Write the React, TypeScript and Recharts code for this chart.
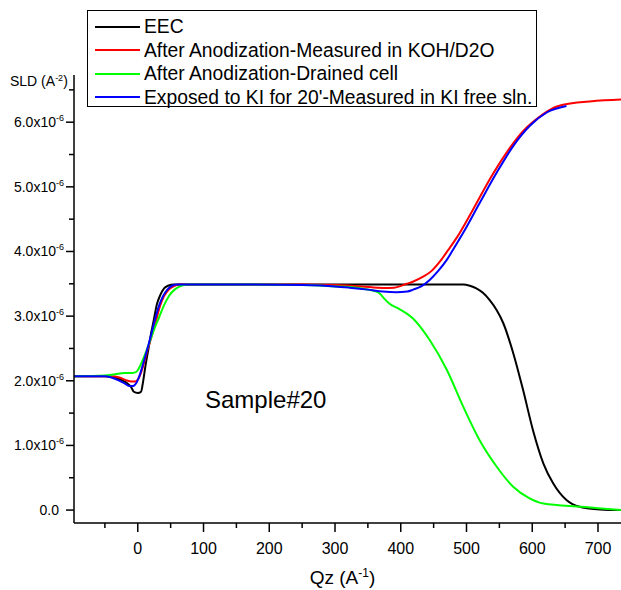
import { LineChart, Line, XAxis, YAxis, Legend } from 'recharts';

// SLD values are in units of 1e-6 A^-2, Qz in A^-1
const eecQ = [-97, -50, -40, -32, -24, -17, -10, -6, 0, 5, 8, 12, 16, 20, 24, 29, 34, 40, 46, 55, 150, 300, 450, 495, 505, 515, 525, 535, 546, 556, 571, 586, 601, 617, 632, 652, 672, 703, 735];
const eecSld = [2.07, 2.07, 2.06, 2.04, 2.01, 1.97, 1.9, 1.83, 1.81, 1.83, 1.98, 2.25, 2.48, 2.72, 2.92, 3.18, 3.32, 3.43, 3.47, 3.49, 3.49, 3.49, 3.49, 3.49, 3.47, 3.43, 3.36, 3.25, 3.09, 2.89, 2.43, 1.86, 1.24, 0.72, 0.41, 0.155, 0.05, 0.01, 0.0];

const kohQ = [-97, -40, -28, -18, -10, -4, 2, 8, 14, 20, 28, 34, 40, 48, 56, 65, 150, 250, 300, 340, 373, 390, 409, 420, 434, 447, 460, 472, 485, 510, 535, 561, 586, 612, 632, 653, 735];
const kohSld = [2.07, 2.07, 2.05, 2.01, 1.99, 1.99, 2.05, 2.22, 2.45, 2.65, 2.94, 3.16, 3.31, 3.42, 3.47, 3.49, 3.49, 3.49, 3.48, 3.46, 3.435, 3.44, 3.5, 3.54, 3.61, 3.7, 3.85, 4.02, 4.21, 4.65, 5.11, 5.53, 5.86, 6.09, 6.22, 6.28, 6.35];

const drainedQ = [-97, -50, -35, -20, -8, -2, 4, 10, 18, 25, 32, 40, 48, 56, 64, 75, 150, 250, 300, 322, 345, 363, 368, 375, 383, 398, 419, 444, 470, 495, 520, 546, 571, 596, 617, 676, 735];
const drainedSld = [2.07, 2.08, 2.1, 2.12, 2.12, 2.14, 2.24, 2.38, 2.6, 2.8, 2.97, 3.17, 3.32, 3.41, 3.46, 3.49, 3.49, 3.48, 3.46, 3.45, 3.42, 3.38, 3.35, 3.27, 3.19, 3.11, 2.96, 2.63, 2.17, 1.6, 1.08, 0.67, 0.36, 0.18, 0.1, 0.05, 0.0];

const kiQ = [-97, -50, -40, -30, -20, -13, -7, -2, 4, 10, 18, 26, 32, 38, 45, 52, 60, 150, 250, 300, 322, 350, 373, 393, 410, 419, 431, 444, 457, 470, 482, 495, 520, 546, 571, 596, 622, 652];
const kiSld = [2.07, 2.07, 2.05, 2.01, 1.96, 1.92, 1.92, 1.97, 2.12, 2.33, 2.62, 2.94, 3.15, 3.3, 3.41, 3.47, 3.49, 3.49, 3.48, 3.46, 3.44, 3.41, 3.38, 3.37, 3.38, 3.41, 3.46, 3.56, 3.7, 3.87, 4.07, 4.29, 4.75, 5.22, 5.63, 5.94, 6.15, 6.25];

const xTicks = [-50, 0, 50, 100, 150, 200, 250, 300, 350, 400, 450, 500, 550, 600, 650, 700];
const yTicks = [0, 0.5, 1, 1.5, 2, 2.5, 3, 3.5, 4, 4.5, 5, 5.5, 6, 6.5];

const toRows = (q: number[], v: number[]) => q.map((x, i) => ({ q: x, sld: v[i] }));

const SERIES = [
  { name: 'EEC', color: '#000000', data: toRows(eecQ, eecSld) },
  { name: 'After Anodization-Measured in KOH/D2O', color: '#ff0000', data: toRows(kohQ, kohSld) },
  { name: 'After Anodization-Drained cell', color: '#00ff00', data: toRows(drainedQ, drainedSld) },
  { name: "Exposed to KI for 20'-Measured in KI free sln.", color: '#0000ff', data: toRows(kiQ, kiSld) },
];

const X_DOMAIN = [-97, 735];

function XTick({ x, y, payload }: any) {
  const v = payload.value;
  const major = v % 100 === 0;
  return (
    <g>
      <line x1={x} x2={x} y1={y} y2={y + (major ? 9 : 5)} stroke="#000" strokeWidth={1.5} />
      {major && (
        <text x={x} y={y + 31} textAnchor="middle" fontSize={16} fill="#000">
          {v}
        </text>
      )}
    </g>
  );
}

function YTick({ x, y, payload }: any) {
  const v = payload.value;
  const major = Number.isInteger(v);
  return (
    <g>
      <line x1={x - (major ? 8 : 5)} x2={x} y1={y} y2={y} stroke="#000" strokeWidth={1.5} />
      {major && v === 0 && (
        <text x={x - 15} y={y + 5} textAnchor="end" fontSize={14} fill="#000">
          0.0
        </text>
      )}
      {major && v !== 0 && (
        <text x={x - 10} y={y} textAnchor="end" fontSize={14} fill="#000">
          <tspan dy={5}>{`${v.toFixed(1)}x10`}</tspan>
          <tspan dy={-6} fontSize={9}>-6</tspan>
        </text>
      )}
    </g>
  );
}

function SldLabel({ viewBox }: any) {
  return (
    <text x={viewBox.x + 10} y={viewBox.y + 11} fontSize={14} fill="#000">
      SLD (A<tspan dy={-5} fontSize={9}>-2</tspan>
      <tspan dy={5}>)</tspan>
    </text>
  );
}

function QzLabel({ viewBox }: any) {
  return (
    <text x={viewBox.x + viewBox.width / 2 - 5} y={viewBox.y + 61} textAnchor="middle" fontSize={19} fill="#000">
      Qz (A<tspan dy={-7} fontSize={12}>-1</tspan>
      <tspan dy={7}>)</tspan>
    </text>
  );
}

// legend drawn from SERIES so it keeps the plotting order
function LegendBox() {
  return (
    <div style={{ border: '1px solid #000', background: '#fff', boxSizing: 'border-box', height: 97, paddingTop: 4 }}>
      {SERIES.map((s) => (
        <div key={s.name} style={{ display: 'flex', alignItems: 'center', height: 23.5 }}>
          <span style={{ display: 'inline-block', width: 45, height: 2, background: s.color, marginLeft: 7, marginRight: 4 }} />
          <span style={{ fontSize: 19.3, lineHeight: '23.5px', color: '#000', whiteSpace: 'nowrap' }}>{s.name}</span>
        </div>
      ))}
    </div>
  );
}

export default function App() {
  return (
    <div style={{ position: 'absolute', left: 0, top: 0, width: 621, height: 590, fontFamily: '"Liberation Sans", Arial, sans-serif', background: '#fff' }}>
      <LineChart width={621} height={590} margin={{ top: 75, right: 0, bottom: 0, left: 0 }}>
        <XAxis
          dataKey="q"
          type="number"
          domain={X_DOMAIN}
          allowDataOverflow
          ticks={xTicks}
          interval={0}
          tick={<XTick />}
          tickLine={false}
          tickSize={0}
          tickMargin={0}
          height={67}
          axisLine={{ stroke: '#000', strokeWidth: 1.5 }}
          label={{ content: <QzLabel /> }}
        />
        <XAxis
          xAxisId="top"
          orientation="top"
          type="number"
          domain={X_DOMAIN}
          allowDataOverflow
          tick={false}
          tickLine={false}
          height={0}
          axisLine={{ stroke: '#000', strokeWidth: 1 }}
        />
        <YAxis
          type="number"
          domain={[-0.2, 6.73]}
          allowDataOverflow
          ticks={yTicks}
          interval={0}
          tick={<YTick />}
          tickLine={false}
          tickSize={0}
          tickMargin={0}
          width={74}
          axisLine={{ stroke: '#000', strokeWidth: 1.5 }}
          label={{ content: <SldLabel /> }}
        />
        <Legend
          layout="horizontal"
          verticalAlign="middle"
          align="center"
          content={<LegendBox />}
          wrapperStyle={{ left: 87, top: 10, width: 450, height: 97 }}
        />
        {SERIES.map((s) => (
          <Line
            key={s.name}
            data={s.data}
            dataKey="sld"
            name={s.name}
            type="monotone"
            stroke={s.color}
            strokeWidth={2}
            dot={false}
            activeDot={false}
            isAnimationActive={false}
          />
        ))}
      </LineChart>
      <div style={{ position: 'absolute', left: 205, top: 388, fontSize: 24, lineHeight: '24px', color: '#000' }}>Sample#20</div>
    </div>
  );
}
